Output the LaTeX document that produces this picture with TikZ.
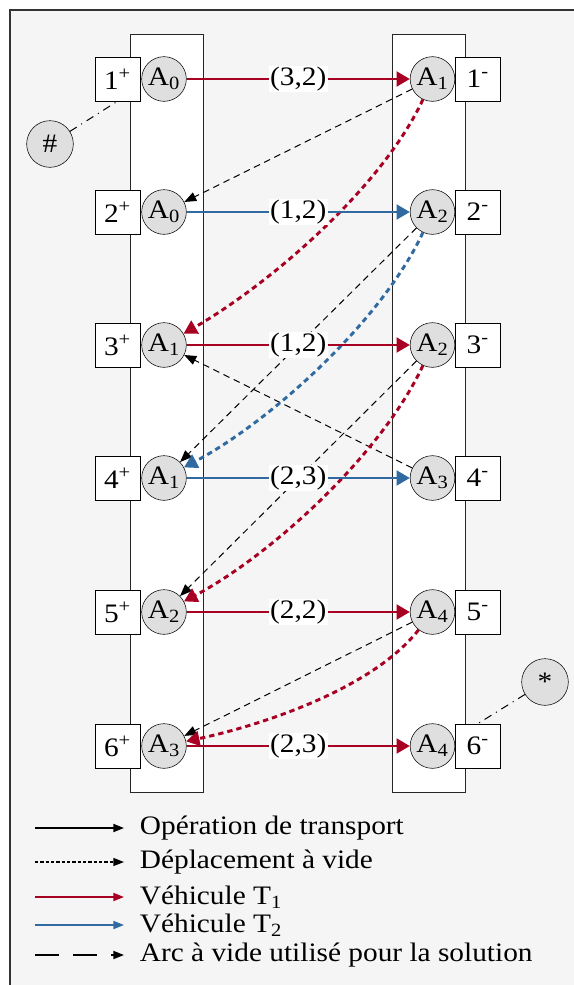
\documentclass[tikz,border=0pt]{standalone}
\usepackage{fontspec}
\setmainfont{Liberation Serif}[FakeStretch=1.1]
\usetikzlibrary{arrows.meta,positioning}
\definecolor{vehRed}{RGB}{168,0,35}
\definecolor{vehBlue}{RGB}{49,106,161}
\definecolor{panelGray}{RGB}{245,245,245}
\definecolor{depotGray}{RGB}{223,223,223}

\begin{document}
\begin{tikzpicture}[
  x=0.75pt, y=0.75pt,
  font=\fontsize{20}{24}\selectfont,
  column/.style={draw=black!85, fill=white, line width=0.75pt},
  station/.style={draw, fill=depotGray, circle, minimum size=33.5pt, inner sep=0pt},
  slot/.style={draw, fill=white, minimum width=33.5pt, minimum height=33pt, inner sep=0pt},
  load/.style={fill=white, text=black, inner sep=1pt},
  transport/.style={-{Triangle[length=10pt,width=11pt]}, line width=2.2pt},
  empty/.style={-{Triangle[length=10pt,width=11pt]}, line width=2.2pt, dash pattern=on 4pt off 3pt},
  link/.style={-{Triangle[length=9pt,width=7pt]}, line width=0.75pt, dash pattern=on 5pt off 3.5pt},
  dummy/.style={line width=0.75pt, dash pattern=on 6pt off 4pt on 0.8pt off 4pt},
  keyline/.style={-{Triangle[length=8pt,width=6pt]}, line width=1.4pt}
]
  \useasboundingbox (0,0) rectangle (574,-985);
  \draw[line width=1.1pt, draw=black!80, fill=panelGray] (10,-10) rectangle (620,-1020);

  % pickup and delivery columns
  \draw[column] (130,-34) rectangle (203,-792);
  \draw[column] (392,-34) rectangle (465,-792);

  % pickup side
  \node[station] (l1) at (164,-79) {A\textsubscript{0}};
  \node[station] (l2) at (164,-212) {A\textsubscript{0}};
  \node[station] (l3) at (164,-345) {A\textsubscript{1}};
  \node[station] (l4) at (164,-478) {A\textsubscript{1}};
  \node[station] (l5) at (164,-612) {A\textsubscript{2}};
  \node[station] (l6) at (164,-746) {A\textsubscript{3}};
  \node[slot,left=1pt of l1] (p1) {1\textsuperscript{+}};
  \node[slot,left=1pt of l2] (p2) {2\textsuperscript{+}};
  \node[slot,left=1pt of l3] (p3) {3\textsuperscript{+}};
  \node[slot,left=1pt of l4] (p4) {4\textsuperscript{+}};
  \node[slot,left=1pt of l5] (p5) {5\textsuperscript{+}};
  \node[slot,left=1pt of l6] (p6) {6\textsuperscript{+}};

  % delivery side
  \node[station] (r1) at (432.5,-79) {A\textsubscript{1}};
  \node[station] (r2) at (432.5,-212) {A\textsubscript{2}};
  \node[station] (r3) at (432.5,-345) {A\textsubscript{2}};
  \node[station] (r4) at (432.5,-478) {A\textsubscript{3}};
  \node[station] (r5) at (432.5,-612) {A\textsubscript{4}};
  \node[station] (r6) at (432.5,-746) {A\textsubscript{4}};
  \node[slot,right=0pt of r1] (m1) {1\textsuperscript{-}};
  \node[slot,right=0pt of r2] (m2) {2\textsuperscript{-}};
  \node[slot,right=0pt of r3] (m3) {3\textsuperscript{-}};
  \node[slot,right=0pt of r4] (m4) {4\textsuperscript{-}};
  \node[slot,right=0pt of r5] (m5) {5\textsuperscript{-}};
  \node[slot,right=0pt of r6] (m6) {6\textsuperscript{-}};

  % dummy start and end
  \node[station,minimum size=35pt] (start) at (50,-144) {\#};
  \node[station,minimum size=35pt] (finish) at (545,-682) {*};
  \draw[dummy] (start) -- (p1.south);
  \draw[dummy] (finish) -- (m6.north);

  % empty arcs
  \draw[link] (r1) -- (l2);
  \draw[link] (r2) -- (l4);
  \draw[link] (r3) -- (l5);
  \draw[link] (r4) -- (l3);
  \draw[link] (r5) -- (l6);

  % empty moves used by the vehicles
  \draw[empty,vehRed] (r1) to[out=-115,in=30,looseness=0.75] (l3);
  \draw[empty,vehBlue] (r2) to[out=-115,in=28,looseness=0.75] (l4);
  \draw[empty,vehRed] (r3) to[out=-115,in=28,looseness=0.75] (l5);
  \draw[empty,vehRed] (r5) to[out=-128,in=12,looseness=0.75] (l6);

  % transport operations
  \draw[transport,vehRed] (l1) -- node[load] {(3,2)} (r1);
  \draw[transport,vehBlue] (l2) -- node[load] {(1,2)} (r2);
  \draw[transport,vehRed] (l3) -- node[load] {(1,2)} (r3);
  \draw[transport,vehBlue] (l4) -- node[load] {(2,3)} (r4);
  \draw[transport,vehRed] (l5) -- node[load] {(2,2)} (r5);
  \draw[transport,vehRed] (l6) -- node[load] {(2,3)} (r6);

  % legend
  \coordinate (k1) at (35,-828); \coordinate (k1e) at (124,-828);
  \coordinate (k2) at (35,-862); \coordinate (k2e) at (124,-862);
  \coordinate (k3) at (35,-897); \coordinate (k3e) at (124,-897);
  \coordinate (k4) at (35,-925); \coordinate (k4e) at (124,-925);
  \coordinate (k5) at (35,-955); \coordinate (k5e) at (124,-955);
  \draw[keyline] (k1) -- (k1e);
  \draw[keyline,line width=1pt,dash pattern=on 2.5pt off 1.5pt] (k2) -- (k2e);
  \draw[keyline,vehRed] (k3) -- (k3e);
  \draw[keyline,vehBlue] (k4) -- (k4e);
  \draw[keyline,dash pattern=on 18pt off 10.5pt] (k5) -- (k5e);
  \node[anchor=west,inner sep=2pt] (t1) at (137,-828) {Opération de transport};
  \node[anchor=west,inner sep=2pt] (t2) at (137,-862) {Déplacement à vide};
  \node[anchor=west,inner sep=2pt] (t3) at (137,-897) {Véhicule T\textsubscript{1}};
  \node[anchor=west,inner sep=2pt] (t4) at (137,-925) {Véhicule T\textsubscript{2}};
  \node[anchor=west,inner sep=2pt] (t5) at (137,-955) {Arc à vide utilisé pour la solution};
\end{tikzpicture}
\end{document}
